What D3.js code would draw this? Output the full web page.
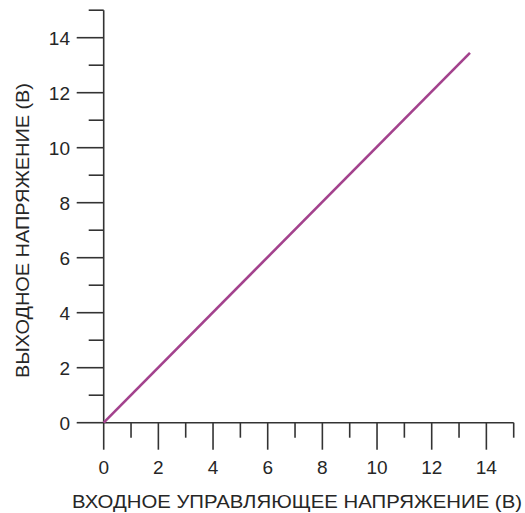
<!DOCTYPE html>
<html>
<head>
<meta charset="utf-8">
<script src="https://cdn.jsdelivr.net/npm/d3@7"></script>
<style>
  html, body { margin: 0; padding: 0; background: #fff; }
  svg { display: block; }
  text { font-family: "Liberation Sans", Arial, sans-serif; fill: #262626; }
</style>
</head>
<body>
<svg id="chart" width="525" height="513"></svg>
<script>
// Transfer characteristic: control input voltage vs. output voltage
const inputVolts = [0, 13.4];
const outputVolts = [0, 13.45];
const majorTicks = [0, 2, 4, 6, 8, 10, 12, 14];
const minorTicks = [1, 3, 5, 7, 9, 11, 13, 15];
const xTitle = "ВХОДНОЕ УПРАВЛЯЮЩЕЕ НАПРЯЖЕНИЕ (В)";
const yTitle = "ВЫХОДНОЕ НАПРЯЖЕНИЕ (В)";

const svg = d3.select("#chart");
const axisColor = "#333";

const x = d3.scaleLinear().domain([0, 15]).range([103.7, 513.7]);
const y = d3.scaleLinear().domain([0, 15]).range([422.7, 10.2]);

// X axis: line plus long major ticks and short minor ticks below
const gx = svg.append("g");
gx.append("line")
  .attr("x1", x(0)).attr("x2", x(15))
  .attr("y1", y(0)).attr("y2", y(0))
  .attr("stroke", axisColor).attr("stroke-width", 1.6);
gx.selectAll(".xmaj").data(majorTicks).join("line")
  .attr("x1", d => x(d)).attr("x2", d => x(d))
  .attr("y1", y(0)).attr("y2", y(0) + 27)
  .attr("stroke", axisColor).attr("stroke-width", 1.6);
gx.selectAll(".xmin").data(minorTicks).join("line")
  .attr("x1", d => x(d)).attr("x2", d => x(d))
  .attr("y1", y(0)).attr("y2", y(0) + 15)
  .attr("stroke", axisColor).attr("stroke-width", 1.6);
gx.selectAll("text").data(majorTicks).join("text")
  .attr("x", d => x(d)).attr("y", 474)
  .attr("text-anchor", "middle")
  .attr("font-size", 19)
  .text(d => d);

// Y axis: line plus long major ticks and short minor ticks to the left
const gy = svg.append("g");
gy.append("line")
  .attr("x1", x(0)).attr("x2", x(0))
  .attr("y1", y(0)).attr("y2", y(15))
  .attr("stroke", axisColor).attr("stroke-width", 1.6);
gy.selectAll(".ymaj").data(majorTicks).join("line")
  .attr("x1", x(0) - 27).attr("x2", x(0))
  .attr("y1", d => y(d)).attr("y2", d => y(d))
  .attr("stroke", axisColor).attr("stroke-width", 1.6);
gy.selectAll(".ymin").data(minorTicks).join("line")
  .attr("x1", x(0) - 15).attr("x2", x(0))
  .attr("y1", d => y(d)).attr("y2", d => y(d))
  .attr("stroke", axisColor).attr("stroke-width", 1.6);
gy.selectAll("text").data(majorTicks).join("text")
  .attr("x", 70).attr("y", d => y(d))
  .attr("dy", "0.36em")
  .attr("text-anchor", "end")
  .attr("font-size", 19)
  .text(d => d);

// Axis titles
svg.append("text")
  .attr("x", 72).attr("y", 508)
  .attr("font-size", 19)
  .attr("textLength", 450)
  .attr("lengthAdjust", "spacingAndGlyphs")
  .text(xTitle);
svg.append("text")
  .attr("transform", "translate(29,378) rotate(-90)")
  .attr("font-size", 19)
  .attr("textLength", 295)
  .attr("lengthAdjust", "spacingAndGlyphs")
  .text(yTitle);

// Characteristic line
const pts = inputVolts.map((v, i) => [v, outputVolts[i]]);
svg.append("path")
  .datum(pts)
  .attr("d", d3.line().x(d => x(d[0])).y(d => y(d[1])))
  .attr("fill", "none")
  .attr("stroke", "#a3428d")
  .attr("stroke-width", 2.6);
</script>
</body>
</html>
